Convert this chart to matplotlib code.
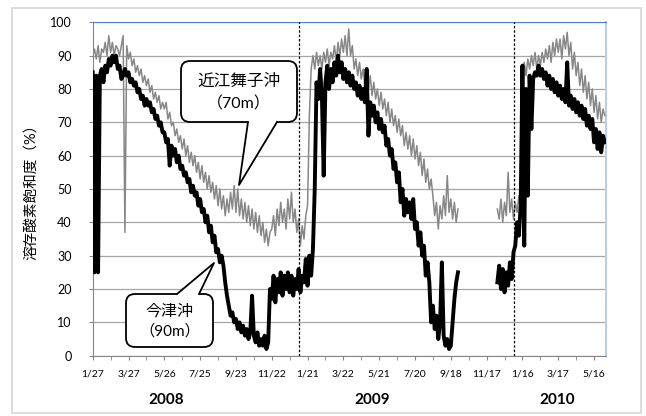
import numpy as np
import matplotlib.pyplot as plt
from matplotlib.patches import FancyBboxPatch, Polygon, Rectangle
from matplotlib.lines import Line2D
from matplotlib.ticker import MultipleLocator
from matplotlib.transforms import IdentityTransform, blended_transform_factory

plt.rcParams['font.family'] = ['Lato', 'Noto Sans CJK JP', 'DejaVu Sans']

nan = np.nan
step = 3  # days between readings, counted from 2008-01-27

# 近江舞子沖 (70m) - gray
omi = [90, 92, 89, 93, 88, 92, 91, 94, 90, 96,
       91, 94, 90, 93, 92, 90, 93, 96, 37, 93,
       89, 91, 87, 89, 85, 87, 84, 86, 82, 84,
       81, 83, 79, 81, 77, 79, 76, 78, 74, 76,
       74, 76, 71, 73, 69, 70, 66, 68, 64, 66,
       62, 65, 60, 63, 58, 61, 57, 60, 55, 58,
       53, 57, 52, 55, 50, 54, 49, 52, 47, 51,
       45, 50, 44, 48, 42, 47, 43, 49, 44, 51,
       43, 50, 42, 47, 41, 46, 40, 45, 39, 44,
       38, 43, 37, 42, 36, 40, 34, 38, 33, 37,
       38, 42, 36, 44, 39, 46, 40, 44, 38, 47,
       41, 49, 40, 44, 37, 41, 33, 39, 35, 42,
       45, 72, 86, 90, 86, 91, 87, 90, 86, 91,
       88, 92, 87, 91, 89, 93, 88, 94, 90, 95,
       91, 96, 90, 98, 90, 93, 86, 89, 84, 88,
       83, 86, 81, 85, 80, 84, 78, 82, 77, 80,
       75, 79, 74, 77, 72, 76, 70, 74, 69, 72,
       67, 71, 66, 69, 63, 67, 62, 66, 60, 65,
       59, 63, 57, 61, 54, 59, 52, 56, 50, 53,
       48, 42, 46, 38, 45, 41, 48, 42, 54, 43,
       47, 41, 46, 40, 44, nan, nan, nan, nan, nan,
       nan, nan, nan, nan, nan, nan, nan, nan, nan, nan,
       nan, nan, nan, nan, nan, nan, 44, 41, 47, 40,
       46, 42, 55, 43, 47, 41, 46, 43, 48, 44,
       86, 88, 84, 89, 86, 90, 87, 91, 86, 90,
       87, 91, 88, 92, 89, 93, 88, 94, 90, 95,
       91, 95, 89, 96, 92, 97, 90, 94, 86, 91,
       84, 88, 81, 86, 79, 84, 77, 82, 75, 80,
       73, 78, 71, 76, 70, 74, 72]

# 今津沖 (90m) - black
imazu = [85, 25, 84, 25, 84, 86, 82, 87, 85, 89,
         87, 90, 88, 90, 86, 87, 83, 84, 86, 84,
         85, 82, 83, 81, 82, 79, 80, 77, 78, 75,
         77, 75, 76, 73, 74, 71, 72, 69, 70, 67,
         67, 64, 65, 57, 63, 60, 62, 58, 60, 56,
         57, 54, 55, 52, 53, 49, 51, 48, 49, 45,
         47, 43, 44, 40, 42, 37, 39, 34, 36, 31,
         32, 28, 30, 27, 22, 18, 15, 12, 13, 10,
         11, 8, 10, 7, 9, 6, 8, 5, 7, 18,
         6, 4, 7, 3, 5, 3, 6, 2, 4, 20,
         17, 24, 16, 23, 19, 25, 18, 24, 20, 25,
         19, 24, 18, 23, 20, 26, 19, 24, 22, 29,
         21, 30, 24, 32, 50, 82, 77, 86, 78, 54,
         82, 87, 80, 86, 82, 88, 84, 90, 85, 88,
         83, 86, 82, 85, 81, 84, 80, 82, 78, 81,
         77, 80, 76, 86, 66, 76, 72, 75, 70, 73,
         68, 71, 67, 69, 63, 65, 60, 62, 56, 58,
         52, 55, 46, 50, 42, 47, 43, 46, 41, 47,
         38, 40, 33, 37, 30, 33, 24, 28, 22, 10,
         15, 8, 12, 5, 10, 28, 6, 3, 5, 2,
         3, 10, 17, 22, 25, nan, nan, nan, nan, nan,
         nan, nan, nan, nan, nan, nan, nan, nan, nan, nan,
         nan, nan, nan, nan, nan, nan, 22, 27, 20, 26,
         19, 25, 21, 28, 23, 31, 33, 40, 36, 45,
         87, 33, 80, 48, 84, 68, 83, 85, 84, 87,
         84, 86, 83, 85, 81, 84, 80, 83, 79, 82,
         78, 81, 77, 80, 76, 88, 75, 78, 74, 77,
         73, 76, 72, 75, 71, 74, 69, 72, 68, 71,
         64, 68, 62, 67, 61, 66, 64]

tick_labels = ["1/27", "3/27", "5/26", "7/25", "9/23", "11/22", "1/21", "3/22",
               "5/21", "7/20", "9/18", "11/17", "1/16", "3/17", "5/16"]
years = ["2008", "2009", "2010"]
year_days = [123, 468, 778]
year_breaks = [345, 706]

W, H = 646, 416
fig = plt.figure(figsize=(W / 100, H / 100), dpi=100)

def fx(px):
    return px / W

def fy(py):
    return 1 - py / H

ax = fig.add_axes([fx(92.7), fy(355.7), (606 - 92.7) / W, (355.7 - 22.3) / H])

days = np.arange(len(omi)) * step
ax.plot(days, omi, color='#878787', lw=1.1, zorder=3)
ax.plot(days, imazu, color='black', lw=2.8, zorder=4)

for d in year_breaks:
    ax.axvline(d, color='black', lw=0.9, ls=(0, (2, 1.5)), zorder=5)

ax.set_xlim(0, 860)
ax.set_ylim(0, 100)
ax.set_xticks(np.arange(len(tick_labels)) * 60)
ax.set_xticklabels(tick_labels)
ax.xaxis.set_minor_locator(MultipleLocator(30))
ax.set_yticks(range(0, 101, 10))
ax.tick_params(axis='x', which='both', length=3, color='#868686', labelsize=7.5, pad=7)
ax.tick_params(axis='y', length=3, color='#868686', labelsize=9, pad=12)
ax.grid(axis='y', color='#a6a6a6', lw=0.9)
ax.set_axisbelow(True)
ax.spines['left'].set_color('#868686')
ax.spines['bottom'].set_color('#868686')
ax.spines['top'].set_color('#4f81bd')
ax.spines['right'].set_color('#b9cde5')
ax.spines['right'].set_linewidth(1.5)

tr = blended_transform_factory(ax.transData, ax.transAxes)
for yr, d in zip(years, year_days):
    ax.text(d, -0.133, yr, transform=tr, ha='center', va='center',
            fontsize=11, fontweight='bold')

fig.text(fx(32), fy(188), "溶存酸素飽和度（%）", rotation=90, ha='center', va='center',
         fontsize=10.5)

# outer chart frame
fig.add_artist(Rectangle((12, H - 413), 629, 405, fc='none', ec='#d9d9d9', lw=1.3,
                         transform=IdentityTransform(), zorder=0))


def callout(x0, y0, x1, y1, ba, bb, tip, line1, line2, size):
    idt = IdentityTransform()
    fig.add_artist(FancyBboxPatch((x0, H - y1), x1 - x0, y1 - y0,
                                  boxstyle="round,pad=0,rounding_size=9",
                                  fc='white', ec='black', lw=1.3, transform=idt, zorder=10))
    # tail leaves from the top or bottom edge
    yb = y1 if tip[1] > y1 else y0
    inside = -3 if tip[1] > y1 else 3
    fig.add_artist(Polygon([(ba, H - yb - inside), (ba, H - yb), (tip[0], H - tip[1]),
                            (bb, H - yb), (bb, H - yb - inside)],
                           closed=True, fc='white', ec='none', transform=idt, zorder=11))
    fig.add_artist(Line2D([ba, tip[0], bb], [H - yb, H - tip[1], H - yb], color='black',
                          lw=1.3, transform=idt, zorder=12))
    cx = (x0 + x1) / 2
    fig.text(fx(cx), fy(y0 + (y1 - y0) * 0.32), line1, ha='center', va='center',
             fontsize=size, zorder=13)
    fig.text(fx(cx), fy(y0 + (y1 - y0) * 0.7), line2, ha='center', va='center',
             fontsize=size - 0.5, zorder=13)


callout(181, 61, 297, 122, 248, 277, (239, 185), "近江舞子沖", "（70m）", 12)
callout(126, 294, 213, 347, 177, 199, (214, 263), "今津沖", "（90m）", 11.5)

fig.savefig("out.png", dpi=100)
